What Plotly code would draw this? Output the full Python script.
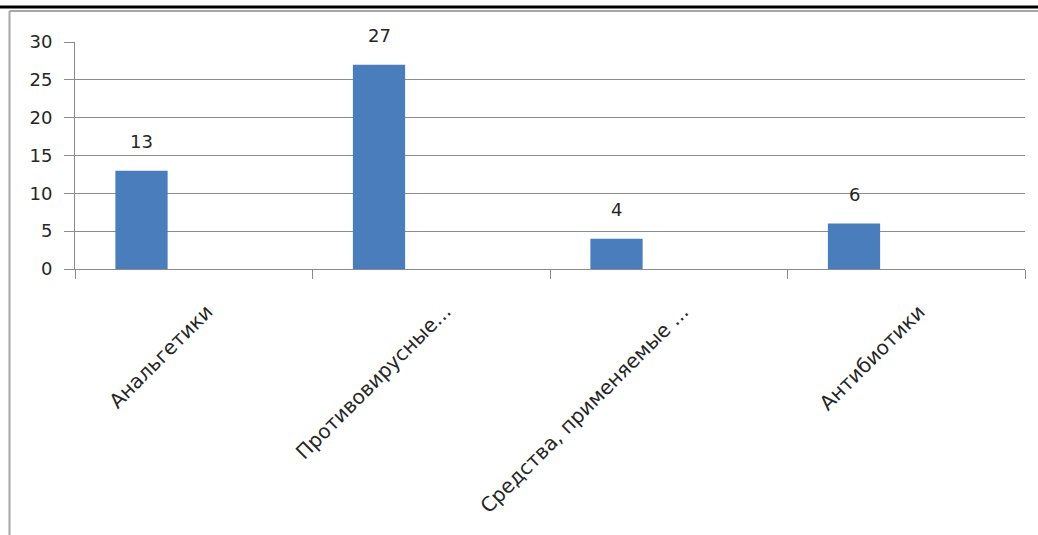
import plotly.graph_objects as go

# Data
categories = ["Анальгетики", "Противовирусные...", "Средства, применяемые ...", "Антибиотики"]
counts = [13, 27, 4, 6]
y_ticks = [0, 5, 10, 15, 20, 25, 30]

BAR_COLOR = "#4a7dbb"
GRID = "#8c8c8c"
TEXT = "#262626"
FONT = "DejaVu Sans"

W, H = 1038, 535
L, R, T, B = 75, 13, 42, 266
plot_w = W - L - R
plot_h = H - T - B


def px_x(px):
    return (px - L) / plot_w


def px_y(py):
    return (H - B - py) / plot_h


idx = list(range(len(categories)))
bar_w = 0.22

fig = go.Figure()
fig.add_trace(go.Bar(
    x=idx,
    y=counts,
    width=bar_w,
    offset=-1.5 * bar_w,
    marker=dict(color=BAR_COLOR, line=dict(width=0)),
    hoverinfo="skip",
))

annotations = []
# value labels above the bars
for i, v in zip(idx, counts):
    annotations.append(dict(
        x=i - bar_w, y=v, xref="x", yref="y",
        text=str(v), showarrow=False,
        xanchor="center", yanchor="bottom", yshift=17,
        font=dict(family=FONT, size=18, color=TEXT),
    ))
# rotated category labels
for i, c in zip(idx, categories):
    annotations.append(dict(
        x=i, y=0, xref="x", yref="y",
        text=c, showarrow=False, textangle=-45,
        xanchor="right", yanchor="top", xshift=27, yshift=-28,
        font=dict(family=FONT, size=20, color=TEXT),
    ))

shapes = [
    # heavy rule at the very top
    dict(type="line", xref="paper", yref="paper",
         x0=px_x(-5), x1=px_x(W + 5), y0=px_y(7), y1=px_y(7),
         line=dict(color="#000000", width=3)),
    # chart frame (top and left edges)
    dict(type="line", xref="paper", yref="paper",
         x0=px_x(9.5), x1=px_x(W + 5), y0=px_y(11), y1=px_y(11),
         line=dict(color="#a6a6a6", width=2)),
    dict(type="line", xref="paper", yref="paper",
         x0=px_x(9.5), x1=px_x(9.5), y0=px_y(11), y1=px_y(H + 5),
         line=dict(color="#a6a6a6", width=2)),
]

fig.update_layout(
    width=W, height=H, autosize=False,
    margin=dict(l=L, r=R, t=T, b=B, pad=0),
    paper_bgcolor="white", plot_bgcolor="white",
    showlegend=False,
    annotations=annotations,
    shapes=shapes,
    font=dict(family=FONT, size=18, color=TEXT),
)
fig.update_xaxes(
    type="linear", range=[-0.5, len(categories) - 0.5],
    tickvals=[i - 0.5 for i in range(len(categories) + 1)],
    showticklabels=False,
    ticks="outside", ticklen=9, tickcolor=GRID, tickwidth=1,
    showline=True, linecolor=GRID, linewidth=1,
    showgrid=False, zeroline=False, fixedrange=True,
)
fig.update_yaxes(
    range=[0, 30], tickvals=y_ticks,
    ticks="outside", ticklen=10, tickcolor=GRID, tickwidth=1,
    ticklabelstandoff=8,
    tickfont=dict(family=FONT, size=18, color=TEXT),
    showline=True, linecolor=GRID, linewidth=1,
    showgrid=True, gridcolor=GRID, gridwidth=1,
    zeroline=False, fixedrange=True,
)

fig.write_html("out.html")
